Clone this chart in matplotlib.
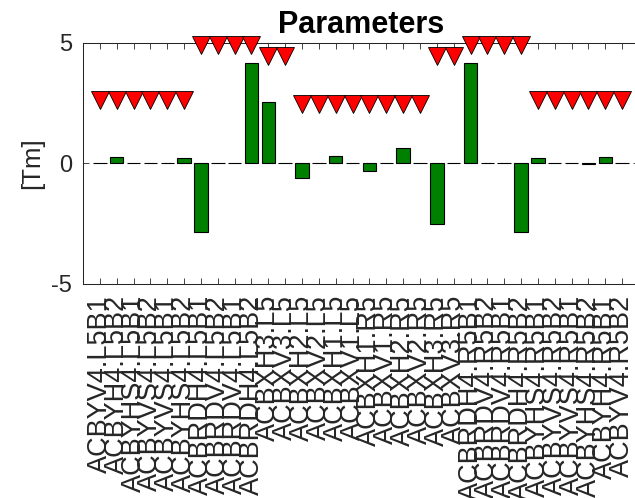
import matplotlib
matplotlib.use('Agg')
import matplotlib.pyplot as plt

plt.rcParams['font.family'] = ['Liberation Sans', 'DejaVu Sans']
plt.rcParams['axes.unicode_minus'] = False

# corrector names along the x axis
names = ['ACBYV4.L5B1', 'ACBYH4.L5B2', 'ACBYHS4.L5B1', 'ACBYVS4.L5B2',
         'ACBYVS4.L5B1', 'ACBYHS4.L5B2', 'ACBRDH4.L5B1', 'ACBRDV4.L5B2',
         'ACBRDV4.L5B1', 'ACBRDH4.L5B2', 'ACBXH3.L5', 'ACBXV3.L5',
         'ACBXH2.L5', 'ACBXV2.L5', 'ACBXH1.L5', 'ACBXV1.L5',
         'ACBXH1.R5', 'ACBXV1.R5', 'ACBXH2.R5', 'ACBXV2.R5',
         'ACBXH3.R5', 'ACBXV3.R5', 'ACBRDH4.R5B1', 'ACBRDV4.R5B2',
         'ACBRDV4.R5B1', 'ACBRDH4.R5B2', 'ACBYHS4.R5B1', 'ACBYVS4.R5B2',
         'ACBYVS4.R5B1', 'ACBYHS4.R5B2', 'ACBYH4.R5B1', 'ACBYV4.R5B2']

# strengths [Tm]
values = [0, 0.25, 0, 0, 0, 0.22, -2.85, 0, 0, 4.18, 2.57, 0,
          -0.62, 0, 0.33, 0, -0.32, 0, 0.65, 0, -2.53, 0,
          4.18, 0, 0, -2.85, 0.22, 0, 0, -0.02, 0.25, 0]

# maximum strengths [Tm]
limits = [2.62, 2.62, 2.62, 2.62, 2.62, 2.62, 4.92, 4.92, 4.92, 4.92,
          4.45, 4.45, 2.45, 2.45, 2.45, 2.45, 2.45, 2.45, 2.45, 2.45,
          4.45, 4.45, 4.92, 4.92, 4.92, 4.92, 2.63, 2.63, 2.63, 2.63,
          2.63, 2.63]

yticks = [-5, 0, 5]

x = list(range(1, len(names) + 1))
gray = '#262626'

fig = plt.figure(figsize=(6.35, 4.98), dpi=100)
ax = fig.add_axes([83 / 635, 1 - 284 / 498, 556 / 635, 241 / 498])

ax.bar(x, values, width=0.8, color='#008000', edgecolor='black', linewidth=0.8, zorder=2)
ax.plot(x, limits, 'v', color='red', markersize=13, markeredgecolor='black',
        markeredgewidth=0.6, linestyle='none', clip_on=False, zorder=3)

ax.set_xlim(0, 33)
ax.set_ylim(-5, 5)
ax.set_xticks(x)
ax.set_xticklabels(names, rotation=90, fontsize=19.5, color=gray)
ax.set_yticks(yticks)
ax.set_yticklabels([str(t) for t in yticks], fontsize=17, color=gray)
ax.tick_params(direction='in', top=True, right=True, length=4, width=0.6,
               color=gray, pad=8)
for s in ax.spines.values():
    s.set_color(gray)
    s.set_linewidth(0.75)

ax.set_ylabel('[Tm]', fontsize=18.5, color=gray, labelpad=5)
ax.set_title('Parameters', fontweight='bold', fontsize=22, pad=7)

fig.savefig('out.png', dpi=100)
